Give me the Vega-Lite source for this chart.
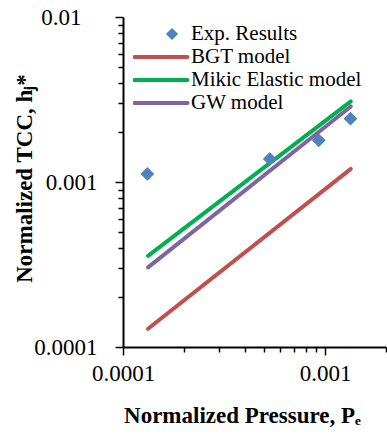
{
  "$schema": "https://vega.github.io/schema/vega-lite/v6.json",
  "width": 263,
  "height": 330,
  "autosize": {"type": "none"},
  "padding": {"left": 123, "top": 17, "right": 1, "bottom": 87},
  "background": "white",
  "config": {
    "view": {"stroke": null},
    "font": "Liberation Serif",
    "legend": {"labelFont": "Liberation Serif"},
    "axis": {
      "grid": false,
      "domainColor": "black",
      "domainWidth": 2,
      "tickColor": "black",
      "tickWidth": 1.5,
      "labelFont": "Liberation Serif",
      "labelFontSize": 23,
      "labelColor": "black",
      "labelFontWeight": "normal",
      "titleFont": "Liberation Serif",
      "titleFontSize": 23,
      "titleFontWeight": "bold",
      "titleColor": "black",
      "titleLimit": 1000,
      "labelOverlap": false,
      "labelBound": false,
      "labelFlush": false
    }
  },
  "data": {
    "values": [
      {"series": "Exp. Results", "x": 0.000132, "y": 0.00112},
      {"series": "Exp. Results", "x": 0.000532, "y": 0.00138},
      {"series": "Exp. Results", "x": 0.00093, "y": 0.00179},
      {"series": "Exp. Results", "x": 0.001334, "y": 0.00242},
      {"series": "BGT model", "x": 0.000133, "y": 0.000129},
      {"series": "BGT model", "x": 0.00134, "y": 0.0012},
      {"series": "Mikic Elastic model", "x": 0.000133, "y": 0.000357},
      {"series": "Mikic Elastic model", "x": 0.00134, "y": 0.00308},
      {"series": "GW model", "x": 0.000133, "y": 0.000304},
      {"series": "GW model", "x": 0.00134, "y": 0.00287}
    ]
  },
  "encoding": {
    "x": {
      "field": "x",
      "type": "quantitative",
      "scale": {"type": "log", "domain": [0.0001, 0.002], "nice": false},
      "axis": {
        "title": "Normalized Pressure, Pₑ",
        "values": [0.0001, 0.0002, 0.0003, 0.0004, 0.0005, 0.0006, 0.0007, 0.0008, 0.0009, 0.001, 0.002],
        "labelExpr": "datum.value == 0.0001 ? '0.0001' : (datum.value == 0.001 ? '0.001' : '')",
        "tickSize": {"condition": {"test": "datum.value == 0.0001 || datum.value == 0.001", "value": 8}, "value": 5},
        "labelPadding": 7,
        "titleFontSize": 23,
        "titleX": 119,
        "titleY": 75,
        "titleAlign": "center",
        "titleBaseline": "alphabetic",
        "titleAnchor": null
      }
    },
    "y": {
      "field": "y",
      "type": "quantitative",
      "scale": {"type": "log", "domain": [0.0001, 0.01], "nice": false},
      "axis": {
        "title": "Normalized TCC, hⱼ*",
        "values": [0.0001, 0.0002, 0.0003, 0.0004, 0.0005, 0.0006, 0.0007, 0.0008, 0.0009, 0.001, 0.002, 0.003, 0.004, 0.005, 0.006, 0.007, 0.008, 0.009, 0.01],
        "labelExpr": "datum.value == 0.0001 ? '0.0001' : (datum.value == 0.001 ? '0.001' : (datum.value == 0.01 ? '0.01' : ''))",
        "tickSize": {"condition": {"test": "datum.value == 0.0001 || datum.value == 0.001 || datum.value == 0.01", "value": 8}, "value": 5},
        "labelPadding": {"condition": {"test": "datum.value == 0.01", "value": 34}, "value": 18},
        "labelBaseline": "middle",
        "titleFontSize": 23,
        "titleX": -92,
        "titleY": 161,
        "titleAngle": -90,
        "titleAlign": "center",
        "titleBaseline": "alphabetic",
        "titleAnchor": null
      }
    }
  },
  "layer": [
    {
      "transform": [{"filter": "datum.series != 'Exp. Results'"}],
      "mark": {"type": "line", "strokeWidth": 4, "strokeCap": "round"},
      "encoding": {
        "detail": {"field": "series"},
        "color": {
          "field": "series",
          "type": "nominal",
          "scale": {
            "domain": ["Exp. Results", "BGT model", "Mikic Elastic model", "GW model"],
            "range": ["#4F81BD", "#C0504D", "#00B050", "#8064A2"]
          },
          "legend": {
            "title": null,
            "orient": "none",
            "legendX": 10,
            "legendY": 7,
            "padding": 0,
            "clipHeight": 20,
            "rowPadding": 2,
            "symbolSize": 2809,
            "symbolStrokeWidth": 4,
            "labelOffset": 37,
            "labelFont": "Liberation Serif",
            "labelFontSize": 21,
            "labelColor": "black",
            "labelLimit": 400,
            "encode": {
              "symbols": {
                "update": {
                  "x": {"signal": "datum.value === 'Exp. Results' ? 39 : 28"},
                  "shape": {"signal": "datum.value === 'Exp. Results' ? 'diamond' : 'stroke'"},
                  "size": {"signal": "datum.value === 'Exp. Results' ? 150 : 2809"},
                  "strokeWidth": {"signal": "datum.value === 'Exp. Results' ? 0 : 4"},
                  "fill": {"scale": "color", "field": "value"},
                  "stroke": {"scale": "color", "field": "value"},
                  "strokeCap": {"value": "round"},
                  "opacity": {"value": 1},
                  "fillOpacity": {"value": 1},
                  "strokeOpacity": {"value": 1}
                }
              }
            }
          }
        }
      }
    },
    {
      "transform": [{"filter": "datum.series == 'Exp. Results'"}],
      "mark": {"type": "point", "shape": "diamond", "filled": true, "size": 190, "opacity": 1},
      "encoding": {
        "color": {"field": "series", "type": "nominal"}
      }
    }
  ]
}
